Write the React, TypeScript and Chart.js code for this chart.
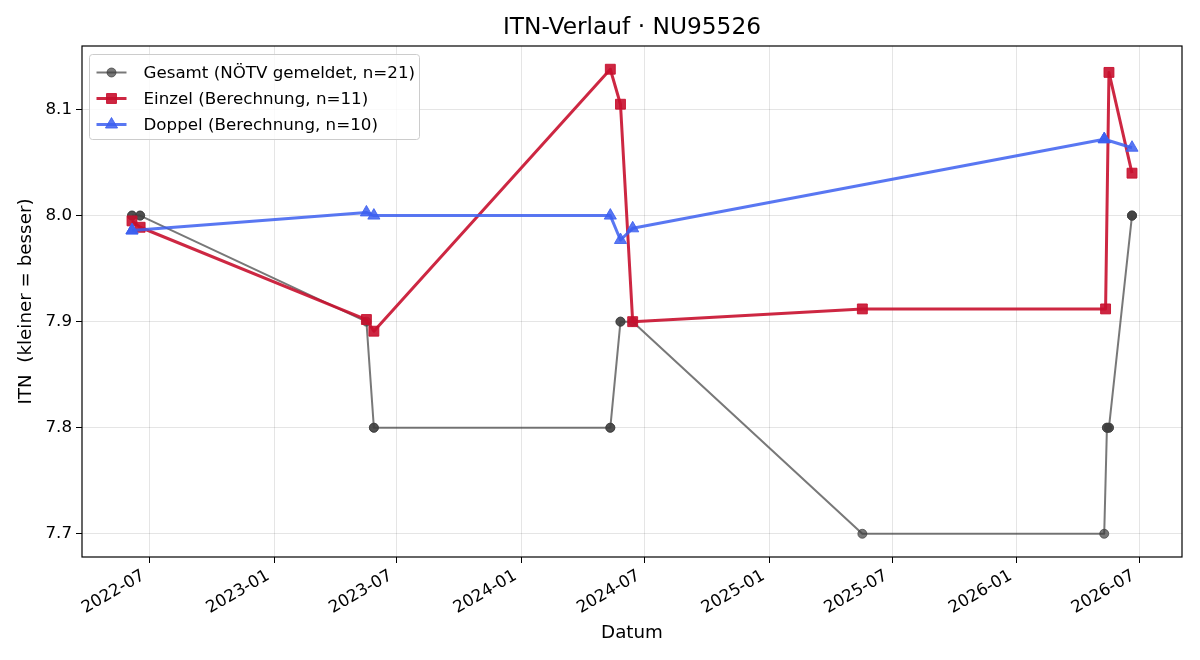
import React, { useEffect, useRef } from "react";
import { Chart, registerables } from "chart.js";

Chart.register(...registerables);

// ---- data -------------------------------------------------------------
const GESAMT_DATES = [
  "2022-06-05", "2022-06-05", "2022-06-17", "2022-06-17", "2023-05-17",
  "2023-05-28", "2023-05-28", "2024-05-11", "2024-05-11", "2024-05-26",
  "2024-05-26", "2024-06-13", "2025-05-18", "2026-05-10", "2026-05-14",
  "2026-05-14", "2026-05-17", "2026-05-17", "2026-06-20", "2026-06-20",
  "2026-06-20",
];
const GESAMT_ITN = [
  8.0, 8.0, 8.0, 8.0, 7.9,
  7.8, 7.8, 7.8, 7.8, 7.9,
  7.9, 7.9, 7.7, 7.7, 7.8,
  7.8, 7.8, 7.8, 8.0, 8.0,
  8.0,
];

const EINZEL_DATES = [
  "2022-06-05", "2022-06-17", "2023-05-17", "2023-05-28", "2024-05-11",
  "2024-05-26", "2024-06-13", "2025-05-18", "2026-05-12", "2026-05-17",
  "2026-06-20",
];
const EINZEL_ITN = [
  7.995, 7.989, 7.902, 7.891, 8.138,
  8.105, 7.9, 7.912, 7.912, 8.135,
  8.04,
];

const DOPPEL_DATES = [
  "2022-06-05", "2022-06-05", "2023-05-17", "2023-05-28", "2024-05-11",
  "2024-05-26", "2024-06-13", "2026-05-10", "2026-05-10", "2026-06-20",
];
const DOPPEL_ITN = [
  7.986, 7.986, 8.003, 8.0, 8.0,
  7.977, 7.988, 8.072, 8.072, 8.064,
];

const X_TICKS = [
  "2022-07-01", "2023-01-01", "2023-07-01", "2024-01-01", "2024-07-01",
  "2025-01-01", "2025-07-01", "2026-01-01", "2026-07-01",
];
const Y_TICKS = [7.7, 7.8, 7.9, 8.0, 8.1];

const TITLE = "ITN-Verlauf · NU95526";
const LABELS = [
  "Gesamt (NÖTV gemeldet, n=21)",
  "Einzel (Berechnung, n=11)",
  "Doppel (Berechnung, n=10)",
];

// ---- styling ----------------------------------------------------------
const GREY = "rgba(62,62,62,0.7)";
const RED = "rgba(200,16,46,0.9)";
const BLUE = "rgba(60,95,240,0.85)";
const FONT = "'DejaVu Sans', sans-serif";
const FS = 16.7;
const FS_AXIS = 18.3;

const DAY_MS = 86400000;
const toDay = (s: string) => {
  const [y, m, d] = s.split("-").map(Number);
  return Date.UTC(y, m - 1, d) / DAY_MS;
};
const dayLabel = (v: number) => new Date(Math.round(v) * DAY_MS).toISOString().slice(0, 7);

const toPoints = (dates: string[], vals: number[]) =>
  dates.map((d, i) => ({ x: toDay(d), y: vals[i] }));

// 5 % margins around the data extent on both axes
const allDays = [...GESAMT_DATES, ...EINZEL_DATES, ...DOPPEL_DATES].map(toDay);
const allVals = [...GESAMT_ITN, ...EINZEL_ITN, ...DOPPEL_ITN];
const dMin = Math.min(...allDays);
const dMax = Math.max(...allDays);
const vMin = Math.min(...allVals);
const vMax = Math.max(...allVals);
const X_MIN = dMin - 0.05 * (dMax - dMin);
const X_MAX = dMax + 0.05 * (dMax - dMin);
const Y_MIN = vMin - 0.05 * (vMax - vMin);
const Y_MAX = vMax + 0.05 * (vMax - vMin);

const LEGEND_STYLE = [
  { color: GREY, style: "circle", radius: 4.5, width: 2 },
  { color: RED, style: "rect", radius: 7, width: 3 },
  { color: BLUE, style: "triangle", radius: 7, width: 3 },
];

function marker(ctx: CanvasRenderingContext2D, style: string, r: number, x: number, y: number) {
  ctx.beginPath();
  if (style === "rect") {
    const s = r * Math.SQRT1_2;
    ctx.rect(x - s, y - s, 2 * s, 2 * s);
  } else if (style === "triangle") {
    for (let k = 0; k < 3; k++) {
      const a = (k * 2 * Math.PI) / 3;
      const px = x + Math.sin(a) * r;
      const py = y - Math.cos(a) * r;
      if (k === 0) ctx.moveTo(px, py);
      else ctx.lineTo(px, py);
    }
    ctx.closePath();
  } else {
    ctx.arc(x, y, r, 0, Math.PI * 2);
  }
  ctx.fill();
  ctx.stroke();
}

// Title centred over the plot, plot frame, and the legend box in the upper-left corner
const framePlugin = {
  id: "frameAndLegend",
  afterDatasetsDraw(chart: any) {
    const { ctx, chartArea } = chart;
    const { left, top, right, bottom } = chartArea;
    ctx.save();
    ctx.strokeStyle = "#000";
    ctx.lineWidth = 1.2;
    ctx.strokeRect(left, top, right - left, bottom - top);

    ctx.fillStyle = "#000";
    ctx.font = `23.3px ${FONT}`;
    ctx.textAlign = "center";
    ctx.textBaseline = "middle";
    ctx.fillText(TITLE, (left + right) / 2, 28);

    // legend
    const bx = left + 7.5, by = top + 8.5, bw = 330, bh = 85, r = 3;
    ctx.beginPath();
    ctx.moveTo(bx + r, by);
    ctx.lineTo(bx + bw - r, by);
    ctx.quadraticCurveTo(bx + bw, by, bx + bw, by + r);
    ctx.lineTo(bx + bw, by + bh - r);
    ctx.quadraticCurveTo(bx + bw, by + bh, bx + bw - r, by + bh);
    ctx.lineTo(bx + r, by + bh);
    ctx.quadraticCurveTo(bx, by + bh, bx, by + bh - r);
    ctx.lineTo(bx, by + r);
    ctx.quadraticCurveTo(bx, by, bx + r, by);
    ctx.closePath();
    ctx.fillStyle = "rgba(255,255,255,0.8)";
    ctx.fill();
    ctx.strokeStyle = "#cccccc";
    ctx.lineWidth = 1;
    ctx.stroke();

    ctx.font = `${FS}px ${FONT}`;
    ctx.textBaseline = "middle";
    ctx.textAlign = "left";
    LABELS.forEach((label, i) => {
      const cy = by + 18 + i * 26;
      const st = LEGEND_STYLE[i];
      ctx.strokeStyle = st.color;
      ctx.lineWidth = st.width;
      ctx.beginPath();
      ctx.moveTo(bx + 7, cy);
      ctx.lineTo(bx + 37, cy);
      ctx.stroke();
      ctx.fillStyle = st.color;
      ctx.lineWidth = 1;
      marker(ctx, st.style, st.radius, bx + 22, cy);
      ctx.fillStyle = "#000";
      ctx.fillText(label, bx + 54, cy + 1);
    });
    ctx.restore();
  },
};

export default function App() {
  const canvasRef = useRef<HTMLCanvasElement | null>(null);

  useEffect(() => {
    if (!canvasRef.current) return;
    const mkSet = (label: string, data: any[], color: string, style: string, radius: number, width: number, order: number) => ({
      label,
      data,
      borderColor: color,
      backgroundColor: color,
      borderWidth: width,
      borderJoinStyle: "round",
      pointStyle: style,
      pointRadius: radius,
      pointBorderWidth: 1,
      pointBackgroundColor: color,
      pointBorderColor: color,
      tension: 0,
      order,
    });

    const tickFont = { family: FONT, size: FS };
    const axisFont = { family: FONT, size: FS_AXIS };
    const grid = {
      color: "rgba(0,0,0,0.1)",
      lineWidth: 1,
      tickColor: "#000",
      tickLength: 6,
      tickWidth: 1,
    };

    const chart = new Chart(canvasRef.current, {
      type: "line",
      data: {
        datasets: [
          mkSet(LABELS[0], toPoints(GESAMT_DATES, GESAMT_ITN), GREY, "circle", 4.5, 2, 2),
          mkSet(LABELS[1], toPoints(EINZEL_DATES, EINZEL_ITN), RED, "rect", 7, 3, 1),
          mkSet(LABELS[2], toPoints(DOPPEL_DATES, DOPPEL_ITN), BLUE, "triangle", 7, 3, 0),
        ] as any,
      },
      options: {
        animation: false,
        responsive: false,
        devicePixelRatio: 1,
        layout: { padding: { top: 46, right: 18, left: 0, bottom: 0 } },
        plugins: {
          legend: { display: false },
          tooltip: { enabled: false },
          title: { display: false },
        },
        scales: {
          x: {
            type: "linear",
            min: X_MIN,
            max: X_MAX,
            afterBuildTicks: (scale: any) => {
              scale.ticks = X_TICKS.map((s) => ({ value: toDay(s) }));
            },
            afterFit: (scale: any) => {
              scale.height = 103;
            },
            ticks: {
              callback: (v: any) => dayLabel(Number(v)),
              minRotation: 30,
              maxRotation: 30,
              color: "#000",
              padding: 3,
              labelOffset: -6,
              autoSkip: false,
              font: tickFont,
            },
            grid,
            border: { display: false },
            title: {
              display: true,
              text: "Datum",
              color: "#000",
              font: axisFont,
              padding: { top: 0, bottom: 16 },
            },
          },
          y: {
            type: "linear",
            min: Y_MIN,
            max: Y_MAX,
            afterBuildTicks: (scale: any) => {
              scale.ticks = Y_TICKS.map((v) => ({ value: v }));
            },
            afterFit: (scale: any) => {
              scale.width = 82;
            },
            ticks: {
              callback: (v: any) => Number(v).toFixed(1),
              color: "#000",
              padding: 4,
              font: tickFont,
            },
            grid,
            border: { display: false },
            title: {
              display: true,
              text: "ITN  (kleiner = besser)",
              color: "#000",
              font: axisFont,
              padding: { top: 15, bottom: 0 },
            },
          },
        },
      },
      plugins: [framePlugin],
    } as any);

    return () => chart.destroy();
  }, []);

  return (
    <div style={{ position: "absolute", left: 0, top: 0, width: 1200, height: 660, background: "#fff" }}>
      <canvas ref={canvasRef} width={1200} height={660} style={{ width: 1200, height: 660 }} />
    </div>
  );
}
